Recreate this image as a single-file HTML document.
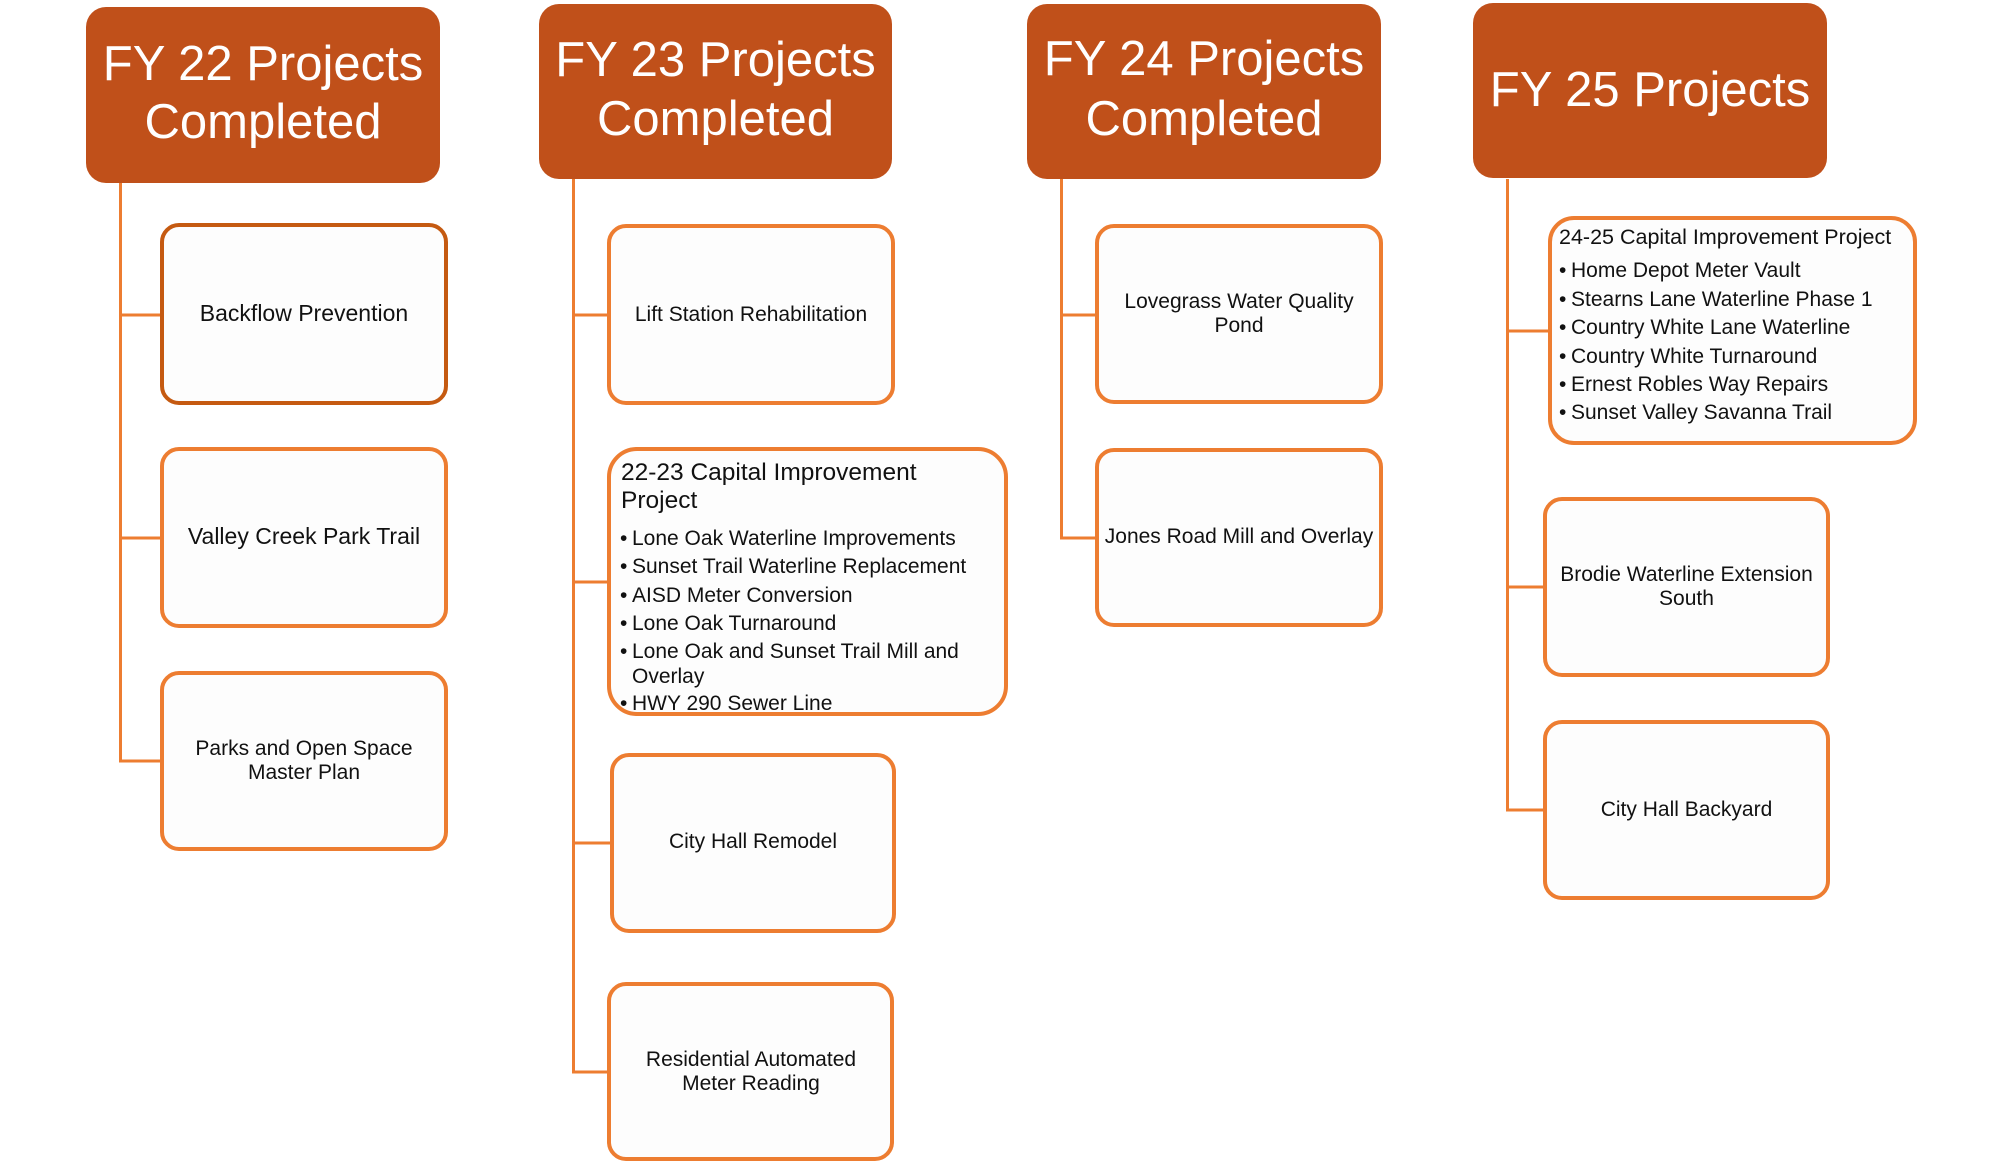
<!DOCTYPE html>
<html>
<head>
<meta charset="utf-8">
<style>
  html, body { margin: 0; padding: 0; background: #ffffff; }
  svg { display: block; }
  text { font-family: "Liberation Sans", Arial, sans-serif; }
  .h { fill: #ffffff; font-size: 49px; text-anchor: middle; }
  .n { fill: #111111; font-size: 21px; text-anchor: middle; }
  .nb { fill: #111111; font-size: 23px; text-anchor: middle; }
  .l { fill: #111111; font-size: 21px; }
  .box { fill: #fdfdfd; stroke: #ED7D31; stroke-width: 4; }
  .con { stroke: #ED7D31; stroke-width: 3; fill: none; }
</style>
</head>
<body>
<svg width="2000" height="1163" viewBox="0 0 2000 1163" xmlns="http://www.w3.org/2000/svg">
  <rect x="0" y="0" width="2000" height="1163" fill="#ffffff"/>

  <!-- Connectors -->
  <!-- FY22 -->
  <path class="con" d="M120.5 183 V761 H162 M120.5 315 H162 M120.5 538 H162"/>
  <!-- FY23 -->
  <path class="con" d="M573.5 179 V1072 H609 M573.5 315 H609 M573.5 582 H609 M573.5 843 H612"/>
  <!-- FY24 -->
  <path class="con" d="M1061.5 179 V538 H1097 M1061.5 315 H1097"/>
  <!-- FY25 -->
  <path class="con" d="M1507.5 179 V810 H1545 M1507.5 331 H1550 M1507.5 587 H1545"/>

  <!-- Headers -->
  <rect x="86" y="7" width="354" height="176" rx="20" fill="#C0501A"/>
  <text class="h" x="263" y="80">FY 22 Projects</text>
  <text class="h" x="263" y="138">Completed</text>

  <rect x="539" y="4" width="353" height="175" rx="20" fill="#C0501A"/>
  <text class="h" x="715.5" y="76">FY 23 Projects</text>
  <text class="h" x="715.5" y="135">Completed</text>

  <rect x="1027" y="4" width="354" height="175" rx="20" fill="#C0501A"/>
  <text class="h" x="1204" y="75">FY 24 Projects</text>
  <text class="h" x="1204" y="135">Completed</text>

  <rect x="1473" y="3" width="354" height="175" rx="20" fill="#C0501A"/>
  <text class="h" x="1650" y="106">FY 25 Projects</text>

  <!-- FY22 nodes -->
  <rect class="box" x="162" y="225" width="284" height="178" rx="17" style="stroke:#C55A11"/>
  <text class="nb" x="304" y="321">Backflow Prevention</text>

  <rect class="box" x="162" y="449" width="284" height="177" rx="17"/>
  <text class="nb" x="304" y="544">Valley Creek Park Trail</text>

  <rect class="box" x="162" y="673" width="284" height="176" rx="17"/>
  <text class="n" x="304" y="755">Parks and Open Space</text>
  <text class="n" x="304" y="779">Master Plan</text>

  <!-- FY23 nodes -->
  <rect class="box" x="609" y="226" width="284" height="177" rx="17"/>
  <text class="n" x="751" y="321">Lift Station Rehabilitation</text>

  <rect class="box" x="609" y="449" width="397" height="265" rx="28"/>
  <text class="l" x="621" y="480" style="font-size:24.5px">22-23 Capital Improvement</text>
  <text class="l" x="621" y="508" style="font-size:24.5px">Project</text>
  <text class="l" x="620" y="545">•</text><text class="l" x="632" y="545">Lone Oak Waterline Improvements</text>
  <text class="l" x="620" y="573">•</text><text class="l" x="632" y="573">Sunset Trail Waterline Replacement</text>
  <text class="l" x="620" y="602">•</text><text class="l" x="632" y="602">AISD Meter Conversion</text>
  <text class="l" x="620" y="630">•</text><text class="l" x="632" y="630">Lone Oak Turnaround</text>
  <text class="l" x="620" y="658">•</text><text class="l" x="632" y="658">Lone Oak and Sunset Trail Mill and</text>
  <text class="l" x="632" y="683">Overlay</text>
  <text class="l" x="620" y="710">•</text><text class="l" x="632" y="710">HWY 290 Sewer Line</text>

  <rect class="box" x="612" y="755" width="282" height="176" rx="17"/>
  <text class="n" x="753" y="848">City Hall Remodel</text>

  <rect class="box" x="609" y="984" width="283" height="175" rx="17"/>
  <text class="n" x="751" y="1066">Residential Automated</text>
  <text class="n" x="751" y="1090">Meter Reading</text>

  <!-- FY24 nodes -->
  <rect class="box" x="1097" y="226" width="284" height="176" rx="17"/>
  <text class="n" x="1239" y="308">Lovegrass Water Quality</text>
  <text class="n" x="1239" y="332">Pond</text>

  <rect class="box" x="1097" y="450" width="284" height="175" rx="17"/>
  <text class="n" x="1239" y="543">Jones Road Mill and Overlay</text>

  <!-- FY25 nodes -->
  <rect class="box" x="1550" y="218" width="365" height="225" rx="24"/>
  <text class="l" x="1559" y="244" style="font-size:21.5px">24-25 Capital Improvement Project</text>
  <text class="l" x="1559" y="277">•</text><text class="l" x="1571" y="277">Home Depot Meter Vault</text>
  <text class="l" x="1559" y="306">•</text><text class="l" x="1571" y="306">Stearns Lane Waterline Phase 1</text>
  <text class="l" x="1559" y="334">•</text><text class="l" x="1571" y="334">Country White Lane Waterline</text>
  <text class="l" x="1559" y="363">•</text><text class="l" x="1571" y="363">Country White Turnaround</text>
  <text class="l" x="1559" y="391">•</text><text class="l" x="1571" y="391">Ernest Robles Way Repairs</text>
  <text class="l" x="1559" y="419">•</text><text class="l" x="1571" y="419">Sunset Valley Savanna Trail</text>

  <rect class="box" x="1545" y="499" width="283" height="176" rx="17"/>
  <text class="n" x="1686.5" y="581">Brodie Waterline Extension</text>
  <text class="n" x="1686.5" y="605">South</text>

  <rect class="box" x="1545" y="722" width="283" height="176" rx="17"/>
  <text class="n" x="1686.5" y="816">City Hall Backyard</text>
</svg>
</body>
</html>
